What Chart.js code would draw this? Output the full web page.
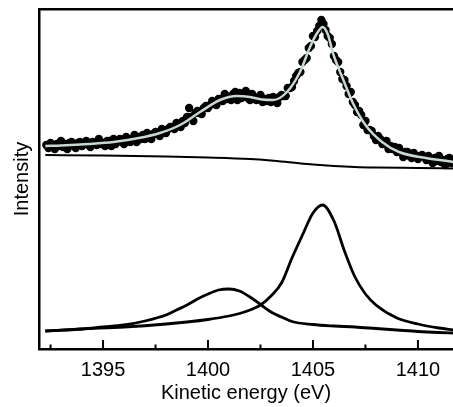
<!DOCTYPE html>
<html>
<head>
<meta charset="utf-8">
<script src="https://cdn.jsdelivr.net/npm/chart.js@4.4.1/dist/chart.umd.min.js"></script>
<style>
  html, body { margin: 0; padding: 0; background: #fff; }
  #wrap { width: 453px; height: 407px; position: relative; }
</style>
</head>
<body>
<div id="wrap"><canvas id="grafico"></canvas></div>
<script>
/* spectrum — fitted Auger/XPS peak with two components */

const COR_PRETO = "#000";
const COR_AJUSTE = "#c8d6d4";
const FONTE = "'Liberation Sans', Arial, Helvetica, sans-serif";

// measured points (black dots)
const energiaPontos = [
  1392.3, 1392.4, 1392.5, 1392.6, 1392.7, 1392.8, 1392.9, 1393.0, 1393.1, 1393.2,
  1393.3, 1393.4, 1393.5, 1393.6, 1393.7, 1393.8, 1393.9, 1394.0, 1394.1, 1394.2,
  1394.3, 1394.4, 1394.5, 1394.6, 1394.7, 1394.8, 1394.9, 1395.0, 1395.1, 1395.2,
  1395.3, 1395.4, 1395.5, 1395.6, 1395.7, 1395.8, 1395.9, 1396.0, 1396.1, 1396.2,
  1396.3, 1396.4, 1396.5, 1396.6, 1396.7, 1396.8, 1396.9, 1397.0, 1397.1, 1397.2,
  1397.3, 1397.4, 1397.5, 1397.6, 1397.7, 1397.8, 1397.9, 1398.0, 1398.1, 1398.2,
  1398.3, 1398.4, 1398.5, 1398.6, 1398.7, 1398.8, 1398.9, 1399.0, 1399.1, 1399.2,
  1399.3, 1399.4, 1399.5, 1399.6, 1399.7, 1399.8, 1399.9, 1400.0, 1400.1, 1400.2,
  1400.3, 1400.4, 1400.5, 1400.6, 1400.7, 1400.8, 1400.9, 1401.0, 1401.1, 1401.2,
  1401.3, 1401.4, 1401.5, 1401.6, 1401.7, 1401.8, 1401.9, 1402.0, 1402.1, 1402.2,
  1402.3, 1402.4, 1402.5, 1402.6, 1402.7, 1402.8, 1402.9, 1403.0, 1403.1, 1403.2,
  1403.3, 1403.4, 1403.5, 1403.6, 1403.7, 1403.8, 1403.9, 1404.0, 1404.1, 1404.2,
  1404.3, 1404.4, 1404.5, 1404.6, 1404.7, 1404.8, 1404.9, 1405.0, 1405.1, 1405.2,
  1405.3, 1405.4, 1405.5, 1405.6, 1405.7, 1405.8, 1405.9, 1406.0, 1406.1, 1406.2,
  1406.3, 1406.4, 1406.5, 1406.6, 1406.7, 1406.8, 1406.9, 1407.0, 1407.1, 1407.2,
  1407.3, 1407.4, 1407.5, 1407.6, 1407.7, 1407.8, 1407.9, 1408.0, 1408.1, 1408.2,
  1408.3, 1408.4, 1408.5, 1408.6, 1408.7, 1408.8, 1408.9, 1409.0, 1409.1, 1409.2,
  1409.3, 1409.4, 1409.5, 1409.6, 1409.7, 1409.8, 1409.9, 1410.0, 1410.1, 1410.2,
  1410.3, 1410.4, 1410.5, 1410.6, 1410.7, 1410.8, 1410.9, 1411.0, 1411.1, 1411.2,
  1411.3, 1411.4, 1411.5, 1411.6
];
const intensPontos = [
  204, 201, 206, 203, 200, 205, 203, 208, 202, 205,
  200, 206, 207, 203, 201, 206, 207, 203, 205, 208,
  204, 202, 207, 206, 204, 210, 205, 206, 203, 208,
  208, 203, 210, 205, 208, 210, 207, 205, 212, 210,
  207, 210, 214, 207, 212, 210, 214, 210, 216, 213,
  210, 215, 217, 215, 213, 220, 217, 216, 220, 222,
  222, 220, 226, 224, 222, 228, 226, 232, 241, 232,
  228, 236, 238, 236, 235, 241, 243, 241, 244, 248,
  245, 244, 250, 250, 248, 255, 250, 252, 249, 255,
  257, 249, 256, 251, 253, 258, 251, 249, 255, 252,
  249, 250, 254, 247, 250, 248, 251, 247, 252, 250,
  246, 252, 254, 253, 253, 261, 261, 262, 268, 273,
  276, 277, 287, 289, 291, 301, 303, 313, 312, 318,
  323, 329, 325, 319, 313, 311, 305, 293, 289, 287,
  277, 270, 269, 263, 255, 257, 247, 244, 237, 238,
  234, 224, 228, 219, 219, 218, 213, 209, 213, 210,
  205, 205, 208, 200, 203, 200, 202, 197, 201, 197,
  192, 197, 197, 193, 191, 196, 193, 190, 193, 194,
  192, 189, 193, 190, 186, 191, 188, 193, 187, 189,
  184, 190, 191, 186
];

// fitted envelope (light grey line)
const energiaAjuste = [
  1392.25, 1393, 1394.33, 1395.5, 1396.71, 1397.71, 1398.67, 1399.62, 1400.57, 1401.38,
  1402.0, 1402.57, 1403.1, 1403.76, 1404.38, 1404.86, 1405.2, 1405.46, 1405.7, 1405.95,
  1406.43, 1406.9, 1407.5, 1408.29, 1409.1, 1410.38, 1411.57, 1411.7
];
const intensAjuste = [
  203, 203.5, 205, 207, 211, 216, 224, 237, 249, 253,
  252, 249.5, 249, 257, 277, 302, 316, 322, 315, 296,
  270, 246, 224, 207, 197, 191, 187.5, 187
];

// background under the envelope
const energiaFundo = [1392.25, 1395, 1398, 1400, 1402, 1403, 1404, 1405, 1406, 1407, 1408, 1410, 1411.7];
const intensFundo  = [194, 193.5, 192.5, 191.5, 190, 188.5, 186.5, 184.5, 183, 182, 181.5, 181, 180.5];

// component peaks (lower part)
const energiaPico1 = [
  1392.25, 1394, 1395, 1396, 1397, 1398, 1398.5, 1399, 1399.5, 1400,
  1400.5, 1401, 1401.5, 1402, 1402.5, 1403, 1403.5, 1404, 1405, 1406,
  1407, 1408, 1409, 1410, 1411, 1411.7
];
const intensPico1 = [
  18, 20, 22, 24, 28, 34, 39, 44, 50, 55,
  59, 60, 58, 52, 44.5, 37, 32, 27.5, 24.5, 23,
  22, 20.5, 19, 17.5, 16.5, 16
];
const energiaPico2 = [
  1392.25, 1394, 1396, 1398, 1399, 1400, 1401, 1401.5, 1402, 1402.5,
  1403, 1403.5, 1404, 1404.5, 1405, 1405.46, 1406, 1406.5, 1407, 1407.5,
  1408, 1409, 1410, 1411, 1411.7
];
const intensPico2 = [
  18, 20, 22, 25, 27, 29.5, 33, 35.5, 39, 44,
  53, 66, 91, 114, 136, 144, 128, 98, 72, 55,
  44, 31, 25, 21, 19
];

const X_MIN = 1391.95, X_MAX = 1411.67;

function pares(xs, ys) {
  return xs.map((x, i) => ({ x, y: ys[i] }));
}

function ehMaior(v) {
  return Math.abs(v / 5 - Math.round(v / 5)) < 1e-6;
}

// inward tick marks, long on the labelled values
const marcasEixo = {
  id: "marcasEixo",
  afterDraw(chart) {
    const sx = chart.scales.x;
    const base = chart.chartArea.bottom;
    const ctx = chart.ctx;
    ctx.save();
    ctx.strokeStyle = COR_PRETO;
    ctx.lineWidth = 2;
    sx.ticks.forEach(t => {
      const px = sx.getPixelForValue(t.value);
      ctx.beginPath();
      ctx.moveTo(px, base);
      ctx.lineTo(px, base - (ehMaior(t.value) ? 9 : 4.5));
      ctx.stroke();
    });
    ctx.restore();
  }
};

const ctx = document.getElementById("grafico").getContext("2d");
new Chart(ctx, {
  type: "line",
  data: {
    datasets: [
      {
        label: "ajuste",
        data: pares(energiaAjuste, intensAjuste),
        borderColor: COR_AJUSTE,
        borderWidth: 2.5,
        pointRadius: 0,
        cubicInterpolationMode: "monotone",
        order: 0
      },
      {
        label: "pontos",
        data: pares(energiaPontos, intensPontos),
        showLine: false,
        pointRadius: 4.2,
        pointBorderWidth: 0,
        pointBackgroundColor: COR_PRETO,
        order: 1
      },
      {
        label: "fundo",
        data: pares(energiaFundo, intensFundo),
        borderColor: COR_PRETO,
        borderWidth: 2,
        pointRadius: 0,
        cubicInterpolationMode: "monotone",
        order: 2
      },
      {
        label: "pico 1",
        data: pares(energiaPico1, intensPico1),
        borderColor: COR_PRETO,
        borderWidth: 2.8,
        pointRadius: 0,
        cubicInterpolationMode: "monotone",
        order: 3
      },
      {
        label: "pico 2",
        data: pares(energiaPico2, intensPico2),
        borderColor: COR_PRETO,
        borderWidth: 2.8,
        pointRadius: 0,
        cubicInterpolationMode: "monotone",
        order: 4
      }
    ]
  },
  options: {
    responsive: true,
    maintainAspectRatio: false,
    animation: false,
    // the plot runs to the right edge (figure is cropped there), so no auto padding
    layout: { autoPadding: false, padding: 0 },
    plugins: {
      legend: { display: false },
      tooltip: { enabled: false }
    },
    scales: {
      x: {
        type: "linear",
        position: "bottom",
        min: X_MIN,
        max: X_MAX,
        afterFit: s => { s.height = 58; s.paddingLeft = 0; s.paddingRight = 0; },
        grid: { display: false, drawTicks: false },
        border: { display: true, color: COR_PRETO, width: 2.5 },
        ticks: {
          stepSize: 2.5,
          includeBounds: false,
          autoSkip: false,
          maxRotation: 0,
          padding: 9,
          color: COR_PRETO,
          font: { family: FONTE, size: 20 },
          callback: v => (ehMaior(v) ? String(Math.round(v)) : "")
        },
        title: {
          display: true,
          text: "Kinetic energy (eV)",
          color: COR_PRETO,
          font: { family: FONTE, size: 20 },
          padding: { top: 0, bottom: 2 }
        }
      },
      xTopo: {
        type: "linear",
        position: "top",
        min: X_MIN,
        max: X_MAX,
        afterFit: s => { s.height = 9; s.paddingLeft = 0; s.paddingRight = 0; },
        grid: { display: false, drawTicks: false },
        border: { display: true, color: COR_PRETO, width: 2.5 },
        ticks: { display: false }
      },
      y: {
        min: 0,
        max: 340,
        afterFit: s => { s.width = 39; },
        grid: { display: false, drawTicks: false },
        border: { display: true, color: COR_PRETO, width: 2.5 },
        ticks: { display: false },
        title: {
          display: true,
          text: "Intensity",
          color: COR_PRETO,
          font: { family: FONTE, size: 20 },
          padding: { top: 10, bottom: 0 }
        }
      }
    }
  },
  plugins: [marcasEixo]
});
</script>
</body>
</html>
